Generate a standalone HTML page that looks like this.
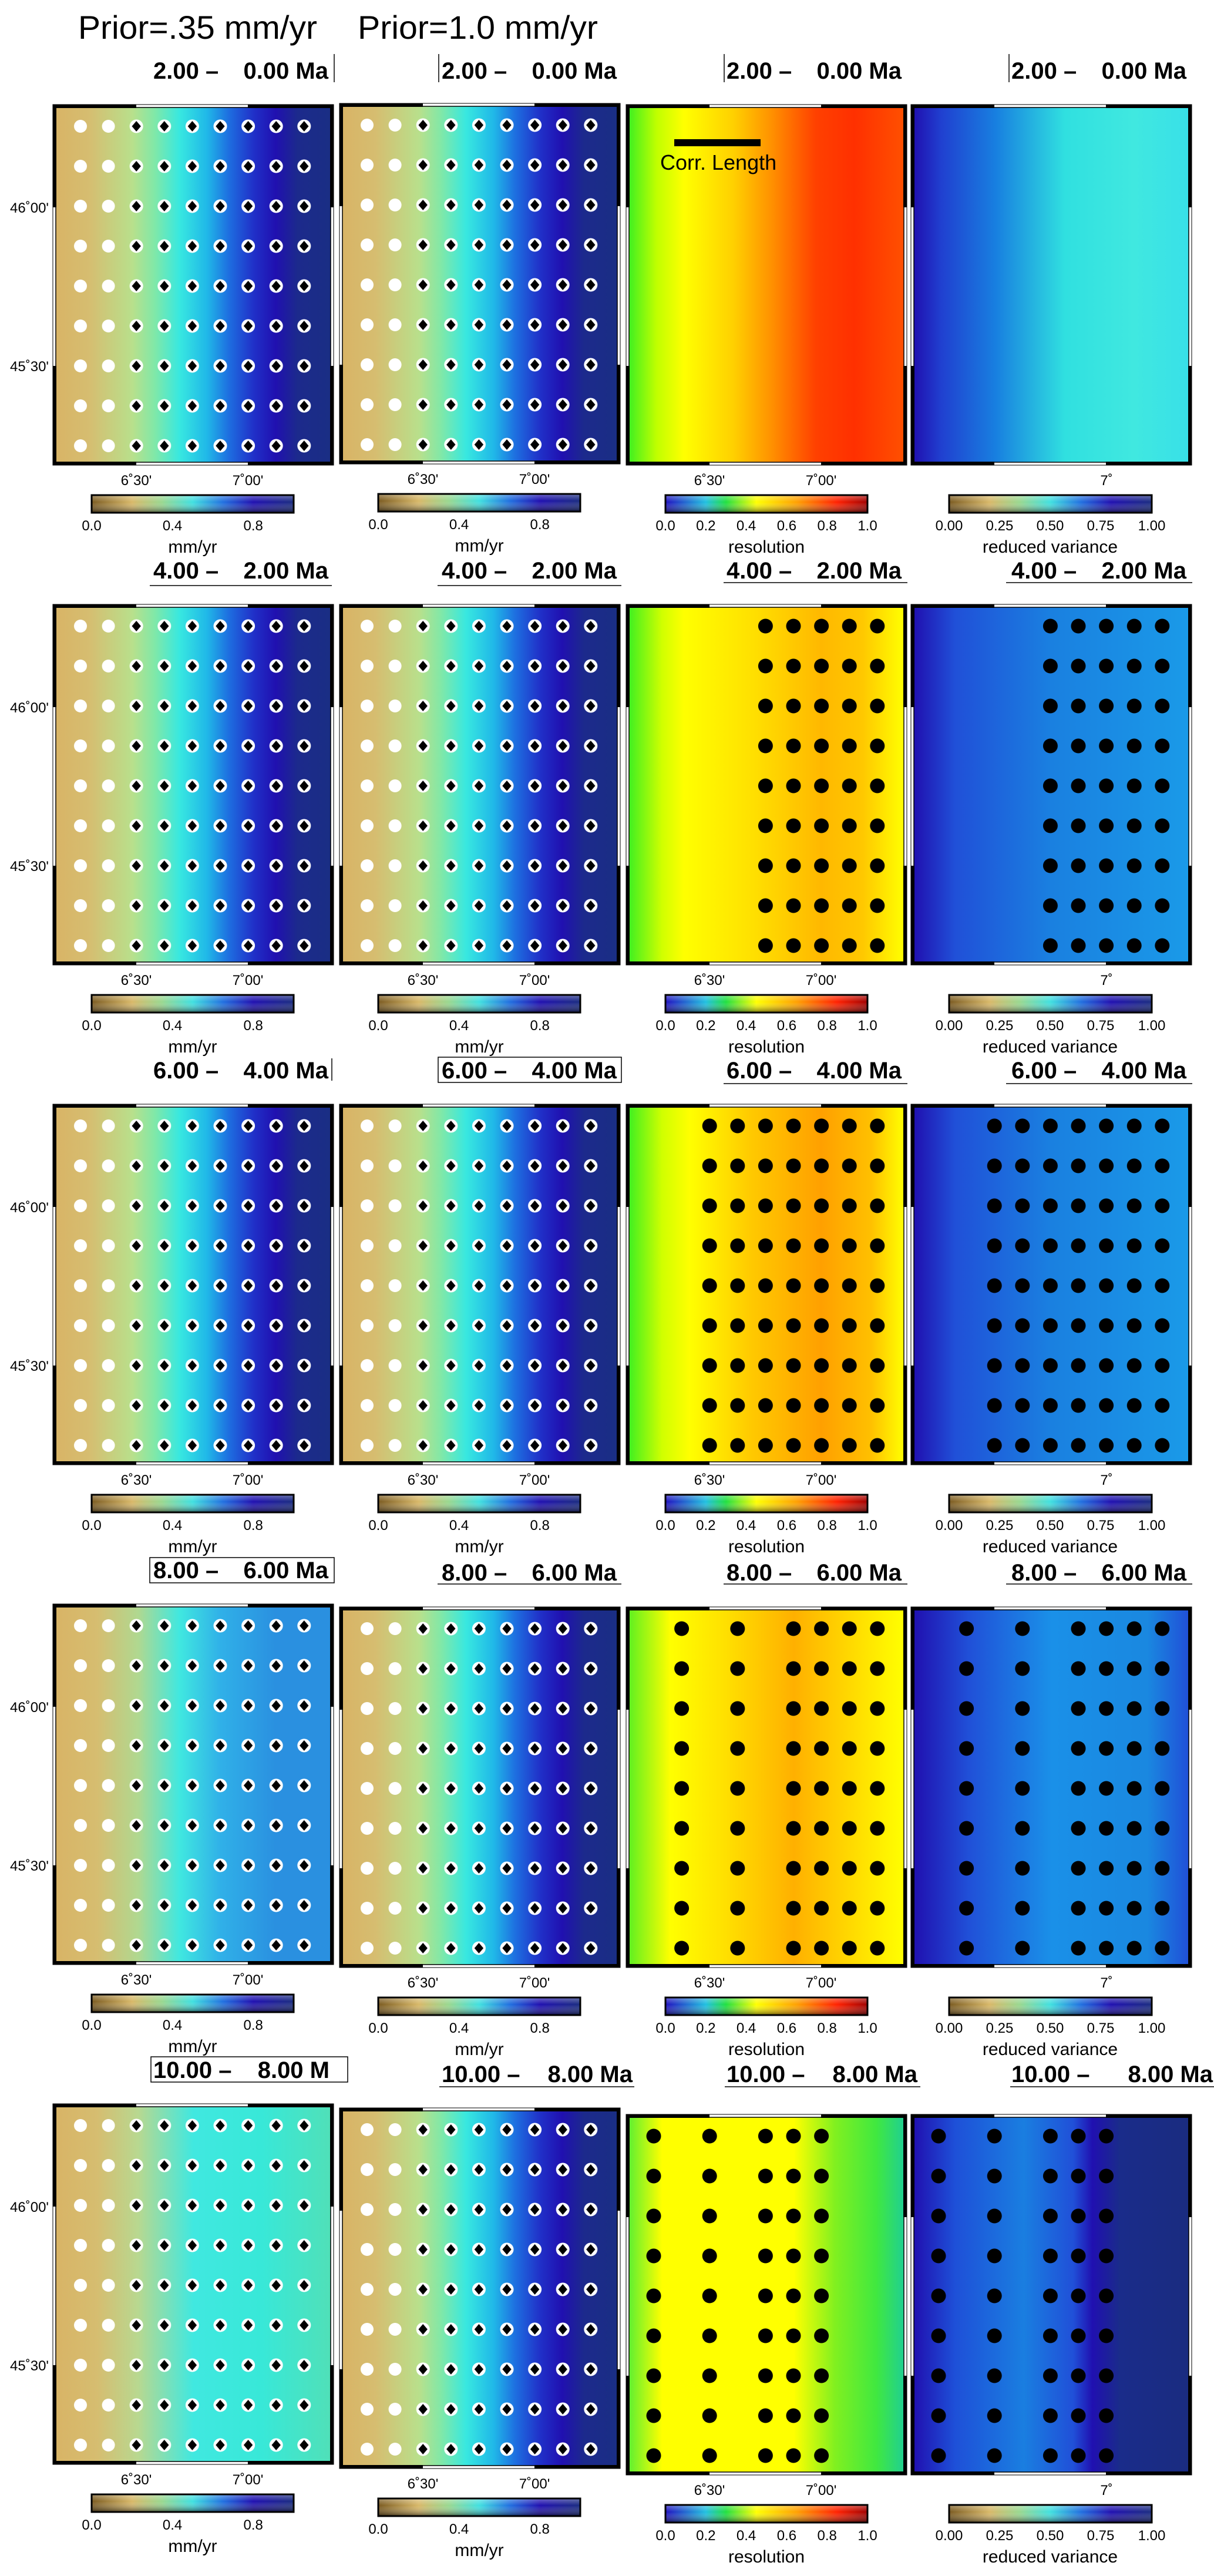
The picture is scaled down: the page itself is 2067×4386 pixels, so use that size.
<!DOCTYPE html>
<html><head><meta charset="utf-8"><style>html,body{margin:0;padding:0;background:#fff}svg{display:block}text{font-family:"Liberation Sans",sans-serif}</style></head>
<body>
<svg width="2067" height="4386" viewBox="0 0 2067 4386" xmlns="http://www.w3.org/2000/svg">
<defs>
<linearGradient id="vA"><stop offset="0" stop-color="#d8b466"/><stop offset=".12" stop-color="#d6bd70"/><stop offset=".28" stop-color="#b8e08c"/><stop offset=".36" stop-color="#80e8a8"/><stop offset=".45" stop-color="#38e8e0"/><stop offset=".55" stop-color="#20b8e8"/><stop offset=".63" stop-color="#1e6ee0"/><stop offset=".72" stop-color="#2030c8"/><stop offset=".8" stop-color="#2010b0"/><stop offset=".88" stop-color="#1c2a8c"/><stop offset="1" stop-color="#1a2e84"/></linearGradient>
<linearGradient id="vB"><stop offset="0" stop-color="#d8b466"/><stop offset=".15" stop-color="#d6bd70"/><stop offset=".3" stop-color="#b0d890"/><stop offset=".45" stop-color="#40e8e0"/><stop offset=".6" stop-color="#30b0e8"/><stop offset=".8" stop-color="#2a90e0"/><stop offset="1" stop-color="#2a90e0"/></linearGradient>
<linearGradient id="vC"><stop offset="0" stop-color="#d8b466"/><stop offset=".15" stop-color="#d6bd70"/><stop offset=".3" stop-color="#b8d890"/><stop offset=".5" stop-color="#40e8e0"/><stop offset=".75" stop-color="#38e8d8"/><stop offset="1" stop-color="#50e0b8"/></linearGradient>
<linearGradient id="r1"><stop offset="0" stop-color="#40f020"/><stop offset=".1" stop-color="#c0ff00"/><stop offset=".2" stop-color="#ffff00"/><stop offset=".38" stop-color="#ffd000"/><stop offset=".52" stop-color="#ff9000"/><stop offset=".68" stop-color="#ff4000"/><stop offset=".82" stop-color="#ff3000"/><stop offset="1" stop-color="#ff5000"/></linearGradient>
<linearGradient id="r2"><stop offset="0" stop-color="#40f020"/><stop offset=".12" stop-color="#d0ff00"/><stop offset=".2" stop-color="#ffff00"/><stop offset=".45" stop-color="#ffe000"/><stop offset=".7" stop-color="#ffb800"/><stop offset=".85" stop-color="#ffc800"/><stop offset="1" stop-color="#ffff00"/></linearGradient>
<linearGradient id="r3"><stop offset="0" stop-color="#40f020"/><stop offset=".12" stop-color="#d0ff00"/><stop offset=".22" stop-color="#ffff00"/><stop offset=".45" stop-color="#ffc800"/><stop offset=".7" stop-color="#ffa000"/><stop offset=".88" stop-color="#ffc000"/><stop offset="1" stop-color="#ffff00"/></linearGradient>
<linearGradient id="r4"><stop offset="0" stop-color="#60f020"/><stop offset=".15" stop-color="#ffff00"/><stop offset=".35" stop-color="#ffe000"/><stop offset=".6" stop-color="#ffb000"/><stop offset=".8" stop-color="#ffd800"/><stop offset="1" stop-color="#ffff00"/></linearGradient>
<linearGradient id="r5"><stop offset="0" stop-color="#60f030"/><stop offset=".12" stop-color="#ffff00"/><stop offset=".6" stop-color="#ffff00"/><stop offset=".75" stop-color="#80f020"/><stop offset=".9" stop-color="#40e840"/><stop offset="1" stop-color="#20d090"/></linearGradient>
<linearGradient id="q1"><stop offset="0" stop-color="#2010b0"/><stop offset=".1" stop-color="#2040d0"/><stop offset=".3" stop-color="#1880e0"/><stop offset=".55" stop-color="#30e0e0"/><stop offset=".8" stop-color="#40e8e0"/><stop offset="1" stop-color="#38e0e8"/></linearGradient>
<linearGradient id="q2"><stop offset="0" stop-color="#2010b0"/><stop offset=".15" stop-color="#2050d8"/><stop offset=".5" stop-color="#1a80e0"/><stop offset="1" stop-color="#1a9ae8"/></linearGradient>
<linearGradient id="q4"><stop offset="0" stop-color="#2010b0"/><stop offset=".2" stop-color="#2050d8"/><stop offset=".5" stop-color="#1a90e8"/><stop offset=".85" stop-color="#1a88e0"/><stop offset="1" stop-color="#2050d8"/></linearGradient>
<linearGradient id="q5"><stop offset="0" stop-color="#2010b0"/><stop offset=".15" stop-color="#1e50d8"/><stop offset=".4" stop-color="#1a7ee0"/><stop offset=".58" stop-color="#2050d8"/><stop offset=".65" stop-color="#2010b0"/><stop offset=".75" stop-color="#1a2c8a"/><stop offset="1" stop-color="#1a2c80"/></linearGradient>
<linearGradient id="cv"><stop offset="0" stop-color="#7a5a20"/><stop offset=".2" stop-color="#d8b868"/><stop offset=".35" stop-color="#98d890"/><stop offset=".5" stop-color="#40e0e0"/><stop offset=".65" stop-color="#2070e0"/><stop offset=".8" stop-color="#2010b0"/><stop offset="1" stop-color="#1a2c80"/></linearGradient>
<linearGradient id="cr"><stop offset="0" stop-color="#2010c0"/><stop offset=".2" stop-color="#20c0e0"/><stop offset=".3" stop-color="#20e040"/><stop offset=".45" stop-color="#ffff00"/><stop offset=".65" stop-color="#ffa000"/><stop offset=".85" stop-color="#ff2000"/><stop offset="1" stop-color="#a00000"/></linearGradient>
<linearGradient id="sh" x1="0" y1="0" x2="0" y2="1"><stop offset="0" stop-color="#fff" stop-opacity=".35"/><stop offset=".4" stop-color="#fff" stop-opacity="0"/><stop offset="1" stop-color="#000" stop-opacity=".55"/></linearGradient>
<pattern id="wc" patternUnits="userSpaceOnUse" x="18.2" y="-2" width="47.6" height="68"><circle cx="23.8" cy="34" r="11" fill="#fff"/></pattern>
<pattern id="wd" patternUnits="userSpaceOnUse" x="18.2" y="-2" width="47.6" height="68"><circle cx="23.8" cy="34" r="11.5" fill="#fff"/><polygon points="23.8,25 31.5,34 23.8,43 16.1,34" fill="#000"/></pattern>
<pattern id="bd" patternUnits="userSpaceOnUse" x="18.2" y="-2" width="47.6" height="68"><circle cx="23.8" cy="34" r="12.5" fill="#000"/></pattern>
<g id="frame">
<rect x="-5" y="-5" width="478" height="614" fill="none" stroke="#000" stroke-width="1"/>
<rect x="0" y="0" width="468" height="604" fill="none" stroke="#000" stroke-width="1.5"/>
<rect x="-5" y="-5" width="142" height="6" fill="#000"/><rect x="327" y="-5" width="146" height="6" fill="#000"/>
<rect x="-5" y="603" width="142" height="6" fill="#000"/><rect x="327" y="603" width="146" height="6" fill="#000"/>
<rect x="-5" y="-5" width="6" height="175" fill="#000"/><rect x="-5" y="440" width="6" height="169" fill="#000"/>
<rect x="467" y="-5" width="6" height="175" fill="#000"/><rect x="467" y="440" width="6" height="169" fill="#000"/>
</g>
<g id="vdots"><rect x="18.2" y="-2" width="95.2" height="612" fill="url(#wc)"/><rect x="113.4" y="-2" width="333.2" height="612" fill="url(#wd)"/></g>
<g id="xlab" font-size="24" text-anchor="middle"><text x="137" y="643">6˚30'</text><text x="327" y="643">7˚00'</text></g>
<g id="ylab" font-size="24" text-anchor="end"><text x="-12" y="179">46˚00'</text><text x="-12" y="449">45˚30'</text></g>
<g id="cbV"><rect x="61" y="660" width="344" height="30" fill="url(#cv)"/><rect x="61" y="660" width="344" height="30" fill="url(#sh)" stroke="#000" stroke-width="3"/>
<g font-size="24" text-anchor="middle"><text x="61" y="720">0.0</text><text x="198.6" y="720">0.4</text><text x="336.2" y="720">0.8</text><text x="233" y="758" font-size="30">mm/yr</text></g></g>
<g id="cbR"><rect x="62" y="660" width="344" height="30" fill="url(#cr)"/><rect x="62" y="660" width="344" height="30" fill="url(#sh)" stroke="#000" stroke-width="3"/>
<g font-size="24" text-anchor="middle"><text x="62" y="720">0.0</text><text x="130.8" y="720">0.2</text><text x="199.6" y="720">0.4</text><text x="268.4" y="720">0.6</text><text x="337.2" y="720">0.8</text><text x="406" y="720">1.0</text><text x="234" y="758" font-size="30">resolution</text></g></g>
<g id="cbQ"><rect x="60" y="660" width="345" height="30" fill="url(#cv)"/><rect x="60" y="660" width="345" height="30" fill="url(#sh)" stroke="#000" stroke-width="3"/>
<g font-size="24" text-anchor="middle"><text x="60" y="720">0.00</text><text x="146" y="720">0.25</text><text x="232" y="720">0.50</text><text x="318" y="720">0.75</text><text x="405" y="720">1.00</text><text x="232" y="758" font-size="30">reduced variance</text></g></g>
</defs>

<text x="133" y="66" font-size="56" textLength="407" lengthAdjust="spacingAndGlyphs">Prior=.35 mm/yr</text>
<text x="609" y="66" font-size="56" textLength="409" lengthAdjust="spacingAndGlyphs">Prior=1.0 mm/yr</text>

<g font-size="40" font-weight="bold">
<text y="134"><tspan x="261">2.00 –</tspan><tspan x="559" text-anchor="end">0.00 Ma</tspan></text>
<text y="134"><tspan x="752">2.00 –</tspan><tspan x="1050" text-anchor="end">0.00 Ma</tspan></text>
<text y="134"><tspan x="1237">2.00 –</tspan><tspan x="1535" text-anchor="end">0.00 Ma</tspan></text>
<text y="134"><tspan x="1722">2.00 –</tspan><tspan x="2020" text-anchor="end">0.00 Ma</tspan></text>
<text y="985"><tspan x="261">4.00 –</tspan><tspan x="559" text-anchor="end">2.00 Ma</tspan></text>
<text y="985"><tspan x="752">4.00 –</tspan><tspan x="1050" text-anchor="end">2.00 Ma</tspan></text>
<text y="985"><tspan x="1237">4.00 –</tspan><tspan x="1535" text-anchor="end">2.00 Ma</tspan></text>
<text y="985"><tspan x="1722">4.00 –</tspan><tspan x="2020" text-anchor="end">2.00 Ma</tspan></text>
<text y="1836"><tspan x="261">6.00 –</tspan><tspan x="559" text-anchor="end">4.00 Ma</tspan></text>
<text y="1836"><tspan x="752">6.00 –</tspan><tspan x="1050" text-anchor="end">4.00 Ma</tspan></text>
<text y="1836"><tspan x="1237">6.00 –</tspan><tspan x="1535" text-anchor="end">4.00 Ma</tspan></text>
<text y="1836"><tspan x="1722">6.00 –</tspan><tspan x="2020" text-anchor="end">4.00 Ma</tspan></text>
<text y="2687"><tspan x="261">8.00 –</tspan><tspan x="559" text-anchor="end">6.00 Ma</tspan></text>
<text y="2691"><tspan x="752">8.00 –</tspan><tspan x="1050" text-anchor="end">6.00 Ma</tspan></text>
<text y="2691"><tspan x="1237">8.00 –</tspan><tspan x="1535" text-anchor="end">6.00 Ma</tspan></text>
<text y="2691"><tspan x="1722">8.00 –</tspan><tspan x="2020" text-anchor="end">6.00 Ma</tspan></text>
<text y="3538"><tspan x="261">10.00 –</tspan><tspan x="561" text-anchor="end">8.00 M</tspan></text>
<text y="3545"><tspan x="752">10.00 –</tspan><tspan x="1077" text-anchor="end">8.00 Ma</tspan></text>
<text y="3545"><tspan x="1237">10.00 –</tspan><tspan x="1562" text-anchor="end">8.00 Ma</tspan></text>
<text y="3545"><tspan x="1722">10.00 –</tspan><tspan x="2065" text-anchor="end">8.00 Ma</tspan></text>
</g>
<g stroke="#000" stroke-width="1.5" fill="none">
<line x1="569" y1="92" x2="569" y2="140"/><line x1="747" y1="92" x2="747" y2="140"/><line x1="1233" y1="92" x2="1233" y2="140"/><line x1="1718" y1="92" x2="1718" y2="140"/>
<line x1="255" y1="997" x2="565" y2="997"/><line x1="745" y1="997" x2="1058" y2="997"/><line x1="1232" y1="992" x2="1545" y2="992"/><line x1="1713" y1="992" x2="2030" y2="992"/>
<line x1="565" y1="1802" x2="565" y2="1840"/><rect x="746" y="1800" width="312" height="43"/><line x1="1232" y1="1845" x2="1545" y2="1845"/><line x1="1713" y1="1845" x2="2030" y2="1845"/>
<rect x="255" y="2652" width="314" height="43"/><line x1="745" y1="2697" x2="1058" y2="2697"/><line x1="1232" y1="2697" x2="1545" y2="2697"/><line x1="1713" y1="2697" x2="2030" y2="2697"/>
<rect x="257" y="3502" width="335" height="43"/><line x1="748" y1="3553" x2="1080" y2="3553"/><line x1="1234" y1="3553" x2="1567" y2="3553"/><line x1="1720" y1="3553" x2="2067" y2="3553"/>
</g>

<g transform="translate(95,183)"><rect width="468" height="604" fill="url(#vA)"/><use href="#vdots"/><use href="#frame"/><use href="#xlab"/><use href="#ylab"/><use href="#cbV"/></g>
<g transform="translate(583,181)"><rect width="468" height="604" fill="url(#vA)"/><use href="#vdots"/><use href="#frame"/><use href="#xlab"/><use href="#cbV"/></g>
<g transform="translate(1071,183)"><rect width="468" height="604" fill="url(#r1)"/><use href="#frame"/><use href="#xlab"/><use href="#cbR"/>
<rect x="77" y="54" width="147" height="12" fill="#000"/><text x="53" y="106" font-size="36">Corr. Length</text></g>
<g transform="translate(1556,183)"><rect width="468" height="604" fill="url(#q1)"/><use href="#frame"/><text x="328" y="643" font-size="24" text-anchor="middle">7˚</text><use href="#cbQ"/></g>

<g transform="translate(95,1034)"><rect width="468" height="604" fill="url(#vA)"/><use href="#vdots"/><use href="#frame"/><use href="#xlab"/><use href="#ylab"/><use href="#cbV"/></g>
<g transform="translate(583,1034)"><rect width="468" height="604" fill="url(#vA)"/><use href="#vdots"/><use href="#frame"/><use href="#xlab"/><use href="#cbV"/></g>
<g transform="translate(1071,1034)"><rect width="468" height="604" fill="url(#r2)"/><rect x="208.6" y="-2" width="238" height="612" fill="url(#bd)"/><use href="#frame"/><use href="#xlab"/><use href="#cbR"/></g>
<g transform="translate(1556,1034)"><rect width="468" height="604" fill="url(#q2)"/><rect x="208.6" y="-2" width="238" height="612" fill="url(#bd)"/><use href="#frame"/><text x="328" y="643" font-size="24" text-anchor="middle">7˚</text><use href="#cbQ"/></g>

<g transform="translate(95,1885)"><rect width="468" height="604" fill="url(#vA)"/><use href="#vdots"/><use href="#frame"/><use href="#xlab"/><use href="#ylab"/><use href="#cbV"/></g>
<g transform="translate(583,1885)"><rect width="468" height="604" fill="url(#vA)"/><use href="#vdots"/><use href="#frame"/><use href="#xlab"/><use href="#cbV"/></g>
<g transform="translate(1071,1885)"><rect width="468" height="604" fill="url(#r3)"/><rect x="113.4" y="-2" width="333.2" height="612" fill="url(#bd)"/><use href="#frame"/><use href="#xlab"/><use href="#cbR"/></g>
<g transform="translate(1556,1885)"><rect width="468" height="604" fill="url(#q2)"/><rect x="113.4" y="-2" width="333.2" height="612" fill="url(#bd)"/><use href="#frame"/><text x="328" y="643" font-size="24" text-anchor="middle">7˚</text><use href="#cbQ"/></g>

<g transform="translate(95,2736)"><rect width="468" height="604" fill="url(#vB)"/><use href="#vdots"/><use href="#frame"/><use href="#xlab"/><use href="#ylab"/><use href="#cbV"/></g>
<g transform="translate(583,2741)"><rect width="468" height="604" fill="url(#vA)"/><use href="#vdots"/><use href="#frame"/><use href="#xlab"/><use href="#cbV"/></g>
<g transform="translate(1071,2741)"><rect width="468" height="604" fill="url(#r4)"/><rect x="65.8" y="-2" width="47.6" height="612" fill="url(#bd)"/><rect x="161" y="-2" width="47.6" height="612" fill="url(#bd)"/><rect x="256.2" y="-2" width="190.4" height="612" fill="url(#bd)"/><use href="#frame"/><use href="#xlab"/><use href="#cbR"/></g>
<g transform="translate(1556,2741)"><rect width="468" height="604" fill="url(#q4)"/><rect x="65.8" y="-2" width="47.6" height="612" fill="url(#bd)"/><rect x="161" y="-2" width="47.6" height="612" fill="url(#bd)"/><rect x="256.2" y="-2" width="190.4" height="612" fill="url(#bd)"/><use href="#frame"/><text x="328" y="643" font-size="24" text-anchor="middle">7˚</text><use href="#cbQ"/></g>

<g transform="translate(95,3587)"><rect width="468" height="604" fill="url(#vC)"/><use href="#vdots"/><use href="#frame"/><use href="#xlab"/><use href="#ylab"/><use href="#cbV"/></g>
<g transform="translate(583,3594)"><rect width="468" height="604" fill="url(#vA)"/><use href="#vdots"/><use href="#frame"/><use href="#xlab"/><use href="#cbV"/></g>
<g transform="translate(1071,3605)"><rect width="468" height="604" fill="url(#r5)"/><rect x="18.2" y="-2" width="47.6" height="612" fill="url(#bd)"/><rect x="113.4" y="-2" width="47.6" height="612" fill="url(#bd)"/><rect x="208.6" y="-2" width="142.8" height="612" fill="url(#bd)"/><use href="#frame"/><use href="#xlab"/><use href="#cbR"/></g>
<g transform="translate(1556,3605)"><rect width="468" height="604" fill="url(#q5)"/><rect x="18.2" y="-2" width="47.6" height="612" fill="url(#bd)"/><rect x="113.4" y="-2" width="47.6" height="612" fill="url(#bd)"/><rect x="208.6" y="-2" width="142.8" height="612" fill="url(#bd)"/><use href="#frame"/><text x="328" y="643" font-size="24" text-anchor="middle">7˚</text><use href="#cbQ"/></g>
</svg>
</body></html>
